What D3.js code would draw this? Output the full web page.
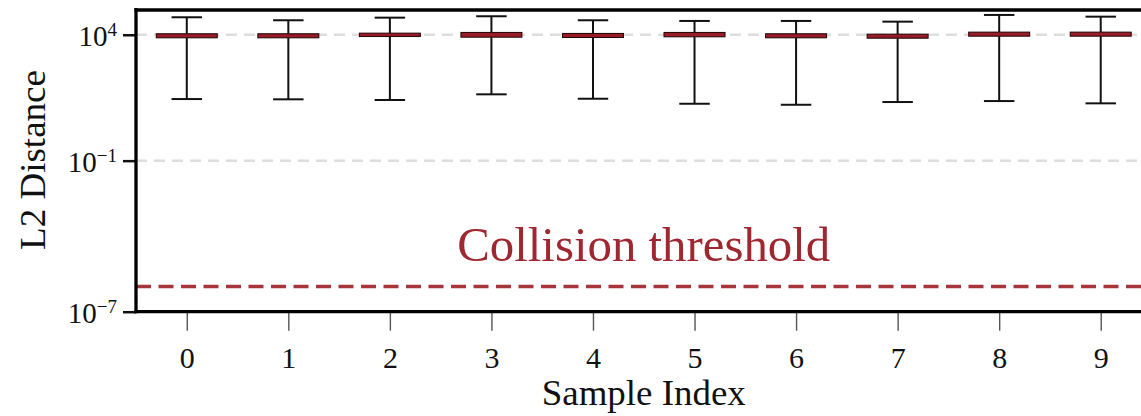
<!DOCTYPE html>
<html>
<head>
<meta charset="utf-8">
<script src="https://cdn.jsdelivr.net/npm/d3@7"></script>
<style>
  html, body { margin: 0; padding: 0; background: #fff; overflow: hidden; }
  svg { display: block; }
  text { font-family: "Liberation Serif", "DejaVu Serif", serif; fill: #111; }
</style>
</head>
<body>
<svg id="chart" width="1141" height="416"></svg>
<script>
// Per-sample L2 distance summaries (log scale)
const samples     = [0, 1, 2, 3, 4, 5, 6, 7, 8, 9];
const whiskerLow  = [28, 27.3, 25.6, 43.1, 28.8, 18.2, 16.6, 21.3, 23.3, 18.9];
const q1          = [7600, 7600, 8560, 8030, 7810, 8330, 7600, 7320, 8800, 8800];
const median      = [9100, 9100, 10000, 9900, 9400, 10100, 9100, 8800, 10500, 10500];
const q3          = [10960, 10960, 11580, 12340, 11260, 12340, 10960, 10560, 12690, 12690];
const whiskerHigh = [49600, 37700, 47900, 54400, 37700, 35400, 35400, 33200, 61300, 52400];

const yTickValues = [1e-7, 1e-1, 1e4];
const yTickExponents = ["\u22127", "\u22121", "4"];
const gridValues = [1e-1, 1e4];
const collisionThreshold = 1e-6;
const thresholdLabel = "Collision threshold";
const xLabel = "Sample Index";
const yLabel = "L2 Distance";

const W = 1141, H = 416;
const plot = { left: 136, top: 9.6, bottom: 311.7 };
const red = "#9b1c26";

const svg = d3.select("#chart");

const x = d3.scaleLinear().domain([-0.5, 9.5]).range([plot.left, 1151.5]);
const y = d3.scaleLog().domain([1e-7, 1e5]).range([plot.bottom, plot.top]);

// Horizontal grid lines
svg.append("g").selectAll("line").data(gridValues).join("line")
  .attr("x1", plot.left).attr("x2", W)
  .attr("y1", d => y(d)).attr("y2", d => y(d))
  .attr("stroke", "#dedede").attr("stroke-width", 2.5)
  .attr("stroke-dasharray", "11,7");

// Collision threshold
svg.append("line")
  .attr("x1", plot.left).attr("x2", W)
  .attr("y1", y(collisionThreshold)).attr("y2", y(collisionThreshold))
  .attr("stroke", "#a8353b").attr("stroke-width", 3.6)
  .attr("stroke-dasharray", "15,7.5");

svg.append("text")
  .attr("x", x(4.5)).attr("y", 261)
  .attr("text-anchor", "middle")
  .attr("font-size", 49)
  .attr("textLength", 373).attr("lengthAdjust", "spacingAndGlyphs")
  .style("fill", "#9e2730")
  .text(thresholdLabel);

// Box plots
const data = samples.map((s, i) => ({
  s, lo: whiskerLow[i], q1: q1[i], med: median[i], q3: q3[i], hi: whiskerHigh[i]
}));
const boxW = 0.6, capW = 0.3;
const g = svg.append("g").selectAll("g").data(data).join("g");

g.append("line")
  .attr("x1", d => x(d.s)).attr("x2", d => x(d.s))
  .attr("y1", d => y(d.lo)).attr("y2", d => y(d.q1))
  .attr("stroke", "#111").attr("stroke-width", 2);
g.append("line")
  .attr("x1", d => x(d.s)).attr("x2", d => x(d.s))
  .attr("y1", d => y(d.q3)).attr("y2", d => y(d.hi))
  .attr("stroke", "#111").attr("stroke-width", 2);
["lo", "hi"].forEach(k => {
  g.append("line")
    .attr("x1", d => x(d.s - capW / 2)).attr("x2", d => x(d.s + capW / 2))
    .attr("y1", d => y(d[k])).attr("y2", d => y(d[k]))
    .attr("stroke", "#111").attr("stroke-width", 2);
});
g.append("rect")
  .attr("x", d => x(d.s - boxW / 2))
  .attr("width", d => x(d.s + boxW / 2) - x(d.s - boxW / 2))
  .attr("y", d => y(d.q3))
  .attr("height", d => y(d.q1) - y(d.q3))
  .attr("fill", red).attr("stroke", "#2a0a0c").attr("stroke-width", 1.1);
g.append("line")
  .attr("x1", d => x(d.s - boxW / 2) + 1).attr("x2", d => x(d.s + boxW / 2) - 1)
  .attr("y1", d => y(d.med)).attr("y2", d => y(d.med))
  .attr("stroke", red).attr("stroke-width", 1);

// Axes
const xAxis = svg.append("g")
  .attr("transform", `translate(0,${plot.bottom})`)
  .call(d3.axisBottom(x).tickValues(samples).tickSize(19).tickPadding(8).tickFormat(d3.format("d")));
xAxis.select(".domain").remove();
xAxis.selectAll(".tick line").attr("stroke", "#555").attr("stroke-width", 1.4);
xAxis.selectAll(".tick text")
  .attr("font-size", 30).attr("dy", null).attr("y", 56.5)
  .style("font-family", "'Liberation Serif', serif").style("fill", "#111");

const yAxis = svg.append("g")
  .attr("transform", `translate(${plot.left},0)`)
  .call(d3.axisLeft(y).tickValues(yTickValues).tickSize(13).tickFormat(() => ""));
yAxis.select(".domain").remove();
yAxis.selectAll(".tick line").attr("stroke", "#111").attr("stroke-width", 2.5);
yAxis.selectAll(".tick text").each(function(d, i) {
  const t = d3.select(this)
    .attr("x", -19).attr("dy", null).attr("y", 11)
    .attr("text-anchor", "end")
    .style("font-family", "'Liberation Serif', serif").style("fill", "#111");
  t.append("tspan").attr("font-size", 29).text("10");
  t.append("tspan").attr("font-size", 19).attr("dy", -10).text(yTickExponents[i]);
});

// Frame
svg.append("line").attr("x1", plot.left).attr("x2", plot.left)
  .attr("y1", plot.top - 1.5).attr("y2", plot.bottom + 1.5)
  .attr("stroke", "#000").attr("stroke-width", 3.3);
svg.append("line").attr("x1", plot.left - 1.6).attr("x2", W)
  .attr("y1", plot.bottom).attr("y2", plot.bottom)
  .attr("stroke", "#000").attr("stroke-width", 3.3);
svg.append("line").attr("x1", plot.left - 1.6).attr("x2", W)
  .attr("y1", 10).attr("y2", 10)
  .attr("stroke", "#000").attr("stroke-width", 3.3);

// Axis titles
svg.append("text")
  .attr("x", x(4.5)).attr("y", 405)
  .attr("text-anchor", "middle").attr("font-size", 35)
  .attr("textLength", 204).attr("lengthAdjust", "spacingAndGlyphs")
  .text(xLabel);
svg.append("text")
  .attr("transform", "translate(45,160) rotate(-90)")
  .attr("text-anchor", "middle").attr("font-size", 35)
  .attr("textLength", 180).attr("lengthAdjust", "spacingAndGlyphs")
  .text(yLabel);
</script>
</body>
</html>
